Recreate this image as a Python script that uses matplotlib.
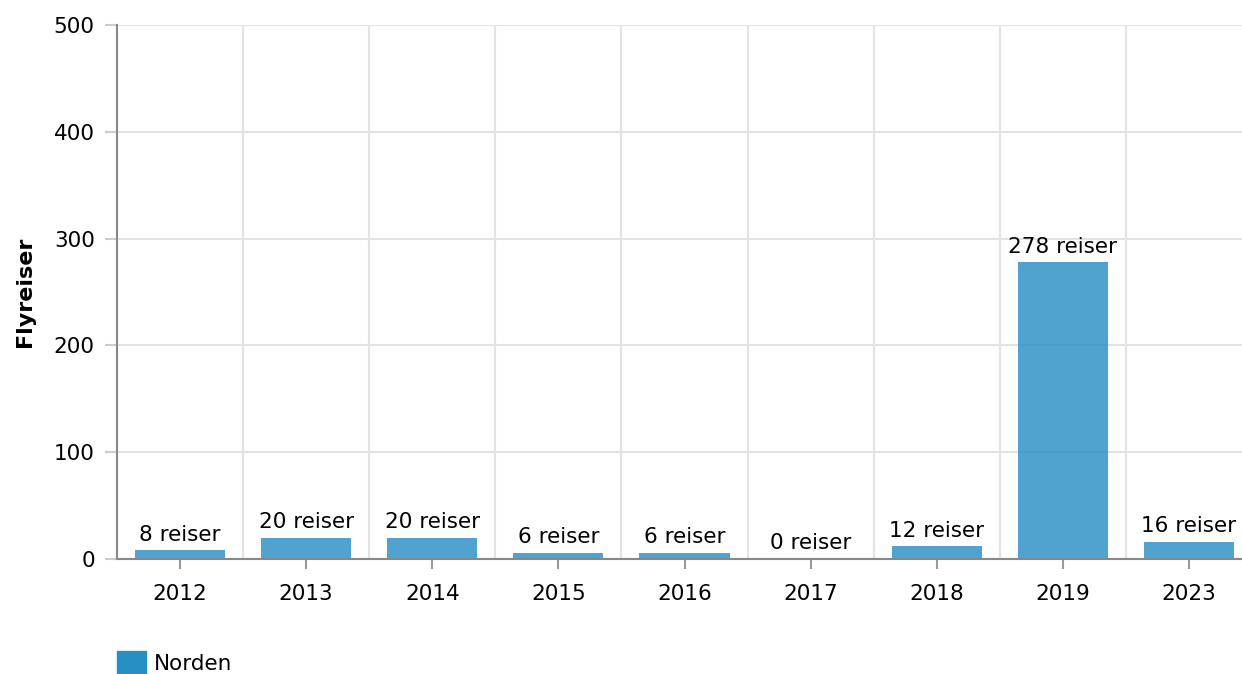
import matplotlib.pyplot as plt
import matplotlib.patches as mpatches
import numpy as np

# Data
years = ['2012', '2013', '2014', '2015', '2016', '2017', '2018', '2019', '2023']
trips = [8, 20, 20, 6, 6, 0, 12, 278, 16]
series_name = 'Norden'

plt.rcParams['font.family'] = ['DejaVu Sans']

W, H = 1242, 674
fig = plt.figure(figsize=(W / 100, H / 100), dpi=100)
# plot area runs a little past the right edge of the image, like the original
ax = fig.add_axes([117 / W, 1 - 559 / H, (1252 - 117) / W, (559 - 25) / H])

x = np.arange(len(years))
ax.bar(x, trips, width=0.715, color='#2a8fc4', alpha=0.82, zorder=3)

for xi, v in zip(x, trips):
    ax.annotate(f'{v} reiser', (xi, v), xytext=(0, 4), textcoords='offset points',
                ha='center', va='bottom', fontsize=15.5, color='black', zorder=4)

ax.set_xlim(-0.5, len(years) - 0.5)
ax.set_ylim(0, 500)
ax.set_yticks([0, 100, 200, 300, 400, 500])
ax.set_xticks(x)
ax.set_xticklabels(years)
ax.set_xticks(np.arange(0.5, len(years) - 0.5, 1), minor=True)

ax.grid(axis='y', which='major', color='#e3e3e3', linewidth=1.5, zorder=0)
ax.grid(axis='x', which='minor', color='#e3e3e3', linewidth=1.5, zorder=0)
ax.tick_params(axis='x', which='minor', length=0)
ax.tick_params(axis='x', which='major', length=7, width=1.5, color='#999999',
               labelsize=15.5, pad=11)
ax.tick_params(axis='y', which='major', length=9, width=1.5, color='#cccccc',
               labelsize=15.5, pad=7)

for side in ['top', 'right']:
    ax.spines[side].set_visible(False)
for side in ['left', 'bottom']:
    ax.spines[side].set_color('#888888')
    ax.spines[side].set_linewidth(1.5)
ax.spines['bottom'].set_zorder(5)

ax.set_ylabel('Flyreiser', fontsize=16, fontweight='bold')
ax.yaxis.set_label_coords(-0.072, 0.5)

# Legend
handle = mpatches.Patch(color='#268fc3', label=series_name)
fig.legend(handles=[handle], loc='lower left', bbox_to_anchor=(98 / W, -0.03),
           frameon=False, fontsize=15.5, handlelength=1.35, handleheight=1.3,
           handletextpad=0.35)

fig.savefig('out.png', dpi=100)
